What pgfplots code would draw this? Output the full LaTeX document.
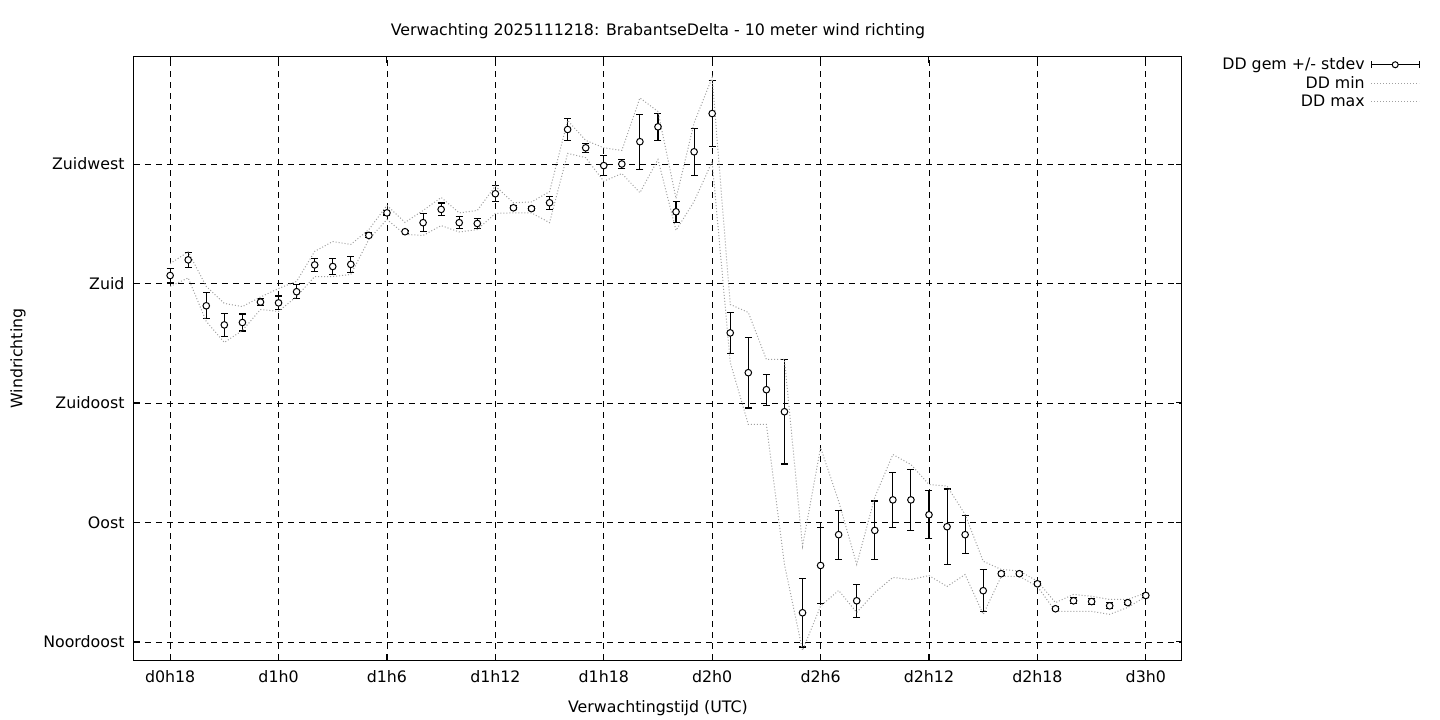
\documentclass[border=0pt]{standalone}
\usepackage{fontspec}
\setmainfont{DejaVu Sans}
\setsansfont{DejaVu Sans}
\usepackage{pgfplots}
\usepackage{pgfplotstable}
\pgfplotsset{compat=1.18}

\newcommand{\fs}{\fontsize{15.8}{19}\selectfont}
\definecolor{dotgray}{RGB}{160,160,160}

% uur, gemiddelde, stdev, min, max (graden)
\pgfplotstableread{
h  dd    sd   mn    mx
18 183.0 2.8  178.9 187.5
19 188.9 2.9  182.1 191.9
20 171.6 4.9  165.7 178.9
21 164.4 4.2  157.8 172.5
22 165.3 3.2  162.3 171.3
23 173.0 1.4  170.2 174.9
24 172.7 2.6  169.5 178.1
25 176.9 2.6  175.1 180.8
26 187.0 2.5  182.6 192.1
27 186.4 2.9  182.6 195.8
28 187.2 3.1  183.4 194.7
29 198.1 0.9  196.6 200.3
30 206.6 0.8  204.1 209.4
31 199.5 0.6  198.5 203.0
32 202.9 3.3  198.1 207.5
33 207.9 2.4  201.8 212.4
34 202.9 2.2  199.4 206.6
35 202.6 2.0  200.3 207.5
36 213.8 3.0  206.4 216.7
37 208.5 0.8  206.6 210.4
38 208.2 0.8  206.6 210.7
39 210.4 2.4  202.9 214.6
40 238.0 4.0  229.0 241.4
41 231.1 1.7  227.4 233.9
42 224.4 3.7  218.5 231.1
43 225.0 1.6  221.4 230.1
44 233.4 10.4 214.2 249.9
45 239.0 5.0  226.7 244.8
46 207.0 3.9  200.0 212.0
47 229.6 8.8  210.9 240.5
48 244.0 12.4 225.9 257.6
49 161.4 7.7  150.3 172.1
50 146.4 13.3 126.9 169.1
51 140.0 5.8  126.9 151.4
52 131.7 19.7 74.2  151.4
53 56.0  12.9 41.8  81.0
54 73.8  14.4 58.5  118.2
55 85.4  9.2  64.4  98.0
56 60.5  6.3  56.1  74.2
57 87.0  11.1 63.6  99.5
58 98.5  10.4 69.3  115.6
59 98.5  11.5 68.5  111.8
60 92.9  9.0  70.0  104.3
61 88.4  14.2 65.9  103.7
62 85.4  7.1  70.4  93.0
63 64.3  8.0  55.4  75.4
64 70.7  0.8  69.7  72.3
65 70.7  0.8  69.7  71.7
66 66.9  0.8  65.9  67.9
67 57.5  0.8  56.5  59.8
68 60.5  1.1  56.5  62.9
69 60.2  1.1  56.5  62.2
70 58.6  1.1  55.4  61.0
71 59.8  0.8  58.0  61.0
72 62.5  0.8  62.1  63.5
}\dd

\begin{document}
\begin{tikzpicture}[font=\fs]
\begin{axis}[
    scale only axis,
    width=1048pt, height=603pt,
    xmin=16, xmax=74,
    ymin=38.2, ymax=265.3,
    xtick={18,24,...,72},
    xticklabels={d0h18,d1h0,d1h6,d1h12,d1h18,d2h0,d2h6,d2h12,d2h18,d3h0},
    ytick={45,90,135,180,225},
    yticklabels={Noordoost,Oost,Zuidoost,Zuid,Zuidwest},
    minor tick num=0,
    major tick length=6pt,
    tick style={black, line width=1pt},
    axis line style={black, line width=1pt},
    grid=major,
    grid style={black, line width=0.8pt, dash pattern=on 6pt off 5pt},
    tick label style={font=\fs},
    xticklabel style={yshift=-7pt},
    yticklabel style={xshift=-6pt},
    title={Verwachting 2025111218: BrabantseDelta - 10 meter wind richting},
    title style={font=\fs, at={(axis description cs:0.5,1)}, anchor=center, yshift=20pt},
    xlabel={Verwachtingstijd (UTC)},
    xlabel style={font=\fs, at={(axis description cs:0.5,0)}, anchor=center, yshift=-48pt},
    ylabel={Windrichting},
    ylabel style={font=\fs, at={(axis description cs:-0.1107,0.5)}, anchor=center},
    legend style={font=\fs, at={(axis description cs:1.2271,1.002)}, anchor=north east,
        draw=none, fill=none, inner sep=0pt, row sep=1pt, column sep=4pt,
        nodes={inner sep=2pt}},
    legend cell align=right,
    legend plot pos=right,
    legend image code/.code={\draw[#1] (0pt,0pt) -- (48pt,0pt);},
]

% gemiddelde met stdev
\addplot[black, only marks, mark=*, mark size=3.3pt,
    mark options={fill=white, line width=1pt},
    legend image code/.code={
        \draw[black, line width=1pt] (0pt,0pt) -- (48pt,0pt)
            (0pt,-3.5pt) -- (0pt,3.5pt) (48pt,-3.5pt) -- (48pt,3.5pt);
        \draw[black, line width=1pt, fill=white] (24pt,0pt) circle (3pt);
    },
    error bars/.cd, y dir=both, y explicit,
    error bar style={line width=1.1pt},
    error mark options={rotate=90, mark size=3.5pt, line width=1.1pt},
    ] table[x=h, y=dd, y error=sd] {\dd};
\addlegendentry{DD gem +/- stdev}

% min en max
\addplot[dotgray, dotted, line width=1pt, no marks] table[x=h, y=mn] {\dd};
\addlegendentry{DD min}
\addplot[dotgray, dotted, line width=1pt, no marks] table[x=h, y=mx] {\dd};
\addlegendentry{DD max}

\end{axis}
\path (-134pt,-60pt) rectangle (1306pt,660pt);
\end{tikzpicture}
\end{document}
